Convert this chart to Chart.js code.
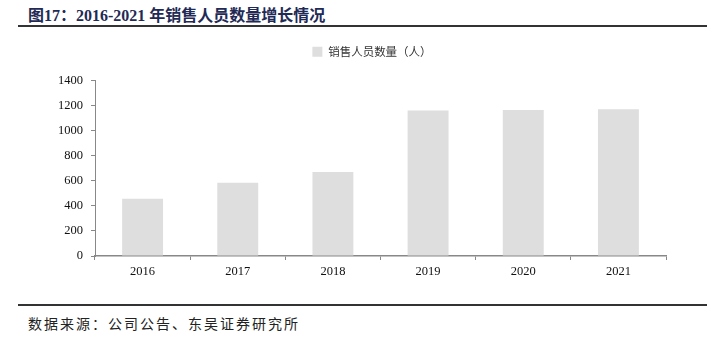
<!DOCTYPE html>
<html>
<head>
<meta charset="utf-8">
<script src="https://cdn.jsdelivr.net/npm/chart.js"></script>
<style>
  body { margin: 0; background: #fff; width: 707px; height: 362px; position: relative; overflow: hidden; }
  #title { position: absolute; left: 28px; top: 2px; font: bold 16px "Liberation Serif", "Noto Sans CJK SC", serif; color: #1f2a55; white-space: nowrap; }
  #topLine { position: absolute; left: 18px; right: 0; top: 25px; height: 2px; background: #333; }
  #bottomLine { position: absolute; left: 18px; right: 0; top: 304px; height: 2px; background: #333; }
  #source { position: absolute; left: 28px; top: 313px; font: 14px "Noto Sans CJK SC", sans-serif; letter-spacing: 2px; color: #222; white-space: nowrap; }
  #wrap { position: absolute; left: 0; top: 0; width: 707px; height: 300px; }
</style>
</head>
<body>
<div id="title">图17：2016-2021 年销售人员数量增长情况</div>
<div id="topLine"></div>
<div id="wrap"><canvas id="myChart"></canvas></div>
<div id="bottomLine"></div>
<div id="source">数据来源：公司公告、东吴证券研究所</div>
<script>
// datos
const years = ['2016', '2017', '2018', '2019', '2020', '2021'];
const salesStaff = [456, 585, 670, 1160, 1165, 1170];
const seriesName = '销售人员数量（人）';

const serif = '"Liberation Serif", "Times New Roman", serif';

// agranda la leyenda para bajar el area del grafico y la mueve a la derecha
const legendGap = {
  id: 'legendGap',
  beforeInit(chart) {
    const fit = chart.legend.fit;
    chart.legend.fit = function () {
      fit.call(this);
      this.height += 13;
    };
  },
  afterLayout(chart) {
    chart.legend.left += 39;
    chart.legend.right += 39;
  }
};

const chartCtx = document.getElementById('myChart').getContext('2d');
const myChart = new Chart(chartCtx, {
  type: 'bar',
  data: {
    labels: years,
    datasets: [{
      label: seriesName,
      data: salesStaff,
      backgroundColor: '#dedede',
      borderWidth: 0,
      categoryPercentage: 1,
      barPercentage: 0.43
    }]
  },
  options: {
    responsive: true,
    maintainAspectRatio: false,
    animation: false,
    layout: { padding: { top: 36, right: 41, bottom: 0, left: 0 } },
    plugins: {
      legend: {
        display: true,
        labels: {
          boxWidth: 10,
          boxHeight: 10,
          padding: 10,
          color: '#333',
          font: { family: '"Noto Sans CJK SC", sans-serif', size: 11.5 }
        }
      },
      tooltip: { enabled: false }
    },
    scales: {
      x: {
        grid: { drawOnChartArea: false, color: '#888', tickLength: 4 },
        border: { color: '#888', width: 1.5 },
        ticks: { color: '#111', padding: 4, font: { family: serif, size: 12.5 } },
        afterFit(scale) { scale.height = 44; }
      },
      y: {
        min: 0,
        max: 1400,
        ticks: {
          stepSize: 200,
          color: '#111',
          padding: 8,
          font: { family: serif, size: 12.5 },
          callback: (v) => String(v)
        },
        grid: { drawOnChartArea: false, color: '#888', tickLength: 4 },
        border: { color: '#888', width: 1 },
        afterFit(scale) { scale.width = 95; }
      }
    }
  },
  plugins: [legendGap]
});
</script>
</body>
</html>
